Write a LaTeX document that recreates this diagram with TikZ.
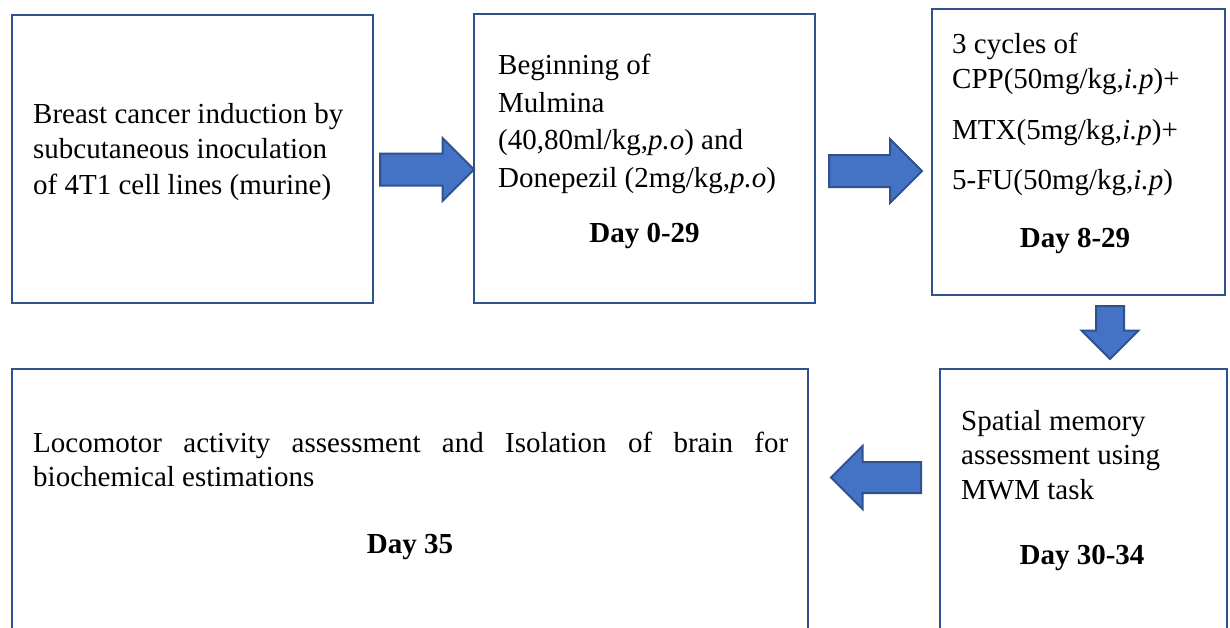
\documentclass[tikz,border=0pt]{standalone}
\usepackage{fontspec}
\setmainfont{Liberation Serif}
\usepackage{xcolor}
\usetikzlibrary{calc,shapes.arrows}
\definecolor{Accent}{HTML}{4472C4}
\definecolor{AccentDark}{HTML}{2F528F}

\begin{document}
\begin{tikzpicture}[x=1pt,y=-1pt,
  stepbox/.style={draw=AccentDark,line width=2pt,fill=white,inner sep=0pt,outer sep=0pt},
  body/.style={anchor=base west,inner sep=0pt,align=left,
    font=\fontsize{29}{35.5}\selectfont},
  daylabel/.style={anchor=base,inner sep=0pt,font=\fontsize{29}{35.5}\selectfont\bfseries},
  fatarrow/.style={single arrow,draw=AccentDark,fill=Accent,line width=2pt,
    inner xsep=0pt,outer sep=0pt,anchor=tail,single arrow tip angle=90}
]
\clip (0,0) rectangle (1230,627);
\fill[white] (0,0) rectangle (1230,627);

% Top row: induction, treatment, chemotherapy.
\node[stepbox,minimum width=361pt,minimum height=288pt] (induction) at (192.5,159) {};
\node[body] (inductiontext) at (33,194)
  {Breast cancer induction by\\subcutaneous inoculation\\of 4T1 cell lines (murine)};

\node[stepbox,minimum width=341pt,minimum height=289pt] (dosing) at (644.5,158.5) {};
\node[body,font=\fontsize{29}{37.5}\selectfont] (dosingtext) at (498,187)
  {Beginning of\\Mulmina\\(40,80ml/kg,\textit{p.o}) and\\Donepezil (2mg/kg,\textit{p.o})};
\node[daylabel] (dosingday) at (644.5,242) {Day 0-29};

\node[stepbox,minimum width=293pt,minimum height=286pt] (chemo) at (1078.5,152) {};
\node[body] (chemotext) at (952,189)
  {3 cycles of\\CPP(50mg/kg,\textit{i.p})+\\[15pt]MTX(5mg/kg,\textit{i.p})+\\[14.5pt]5-FU(50mg/kg,\textit{i.p})};
\node[daylabel] (chemoday) at (1075,247) {Day 8-29};

% Bottom row: cut off by the lower edge.
\node[stepbox,minimum width=287pt,minimum height=290pt] (memory) at (1083.5,514) {};
\node[body,font=\fontsize{29}{34.5}\selectfont] (memorytext) at (961,499)
  {Spatial memory\\assessment using\\MWM task};
\node[daylabel] (memoryday) at (1082,564) {Day 30-34};

\node[stepbox,minimum width=796pt,minimum height=290pt] (harvest) at (410,514) {};
\node[body,text width=755pt,align=justify,font=\fontsize{29}{34}\selectfont] (harvesttext) at (33,452)
  {Locomotor activity assessment and Isolation of brain for\linebreak biochemical estimations};
\node[daylabel] (harvestday) at (410,553) {Day 35};

% Block arrows between the stages.
\node[fatarrow,minimum height=94pt,inner ysep=15pt,single arrow head extend=15.5pt]
  (ar1) at ($(induction.east)+(7,10.5)$) {};
\node[fatarrow,minimum height=93pt,inner ysep=15pt,single arrow head extend=16pt]
  (ar2) at ($(dosing.east)+(14,12.5)$) {};
\node[fatarrow,shape border rotate=270,minimum height=53pt,inner xsep=13pt,inner ysep=0pt,
  single arrow head extend=14.5pt] (ar3) at ($(chemo.south)+(31.5,11)$) {};
\node[fatarrow,shape border rotate=180,minimum height=90pt,inner ysep=14.5pt,
  single arrow head extend=16pt] (ar4) at ($(memory.west)+(-19,-36.5)$) {};
\end{tikzpicture}
\end{document}
